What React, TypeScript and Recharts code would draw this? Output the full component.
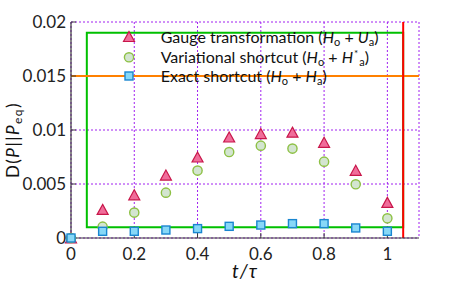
import React from 'react';
import { ScatterChart, Scatter, XAxis, YAxis, Legend, Label, ReferenceArea, ReferenceLine, CartesianGrid } from 'recharts';

const tValues = [0, 0.1, 0.2, 0.3, 0.4, 0.5, 0.6, 0.7, 0.8, 0.9, 1.0];
const gaugeValues = [0, 0.00265, 0.004, 0.00583, 0.0075, 0.00935, 0.00967, 0.0098, 0.00886, 0.00627, 0.0033];
const variationalValues = [0, 0.00105, 0.00235, 0.0042, 0.00624, 0.00796, 0.00855, 0.00828, 0.00707, 0.00497, 0.00182];
const exactValues = [0, 0.00062, 0.00062, 0.00074, 0.00087, 0.00108, 0.0012, 0.00133, 0.00133, 0.00093, 0.00062];
const xTicks = [0, 0.2, 0.4, 0.6, 0.8, 1];
const yTicks = [0, 0.005, 0.01, 0.015, 0.02];

const X_DOMAIN: [number, number] = [0, 1.1];
const Y_DOMAIN: [number, number] = [0, 0.02];

const gaugeData = tValues.map((t, i) => ({ t, v: gaugeValues[i] }));
const variationalData = tValues.map((t, i) => ({ t, v: variationalValues[i] }));
const exactData = tValues.map((t, i) => ({ t, v: exactValues[i] }));

const FONT = "Lato, 'Open Sans', sans-serif";
const AXIS = '#3a3a3a';

const TRI_FILL = '#f06d9a';
const TRI_STROKE = '#c8164a';
const CIR_FILL = '#d3e5d0';
const CIR_STROKE = '#8dc044';
const SQ_FILL = '#87d8f7';
const SQ_STROKE = '#1a86d0';

const Triangle = ({ cx, cy }: any) => {
  const w = 5.5;
  const h = 5;
  return (
    <path d={`M${cx},${cy - h} L${cx + w},${cy + h} L${cx - w},${cy + h} Z`} fill={TRI_FILL} stroke={TRI_STROKE} strokeWidth={1.2} />
  );
};
const Circle = ({ cx, cy }: any) => (
  <circle cx={cx} cy={cy} r={4.6} fill={CIR_FILL} stroke={CIR_STROKE} strokeWidth={1.4} />
);
const Square = ({ cx, cy }: any) => (
  <rect x={cx - 4} y={cy - 4} width={8} height={8} fill={SQ_FILL} stroke={SQ_STROKE} strokeWidth={1.4} />
);

const EmptyTick = () => <g />;
const sub = 11;
const LEG_FS = 16;

const LegendContent = () => (
  <svg width={330} height={75} style={{ overflow: 'visible' }}>
    <Triangle cx={19} cy={16.5} />
    <Circle cx={19} cy={37.3} />
    <Square cx={19} cy={56} />
    <text x={50.7} y={22.7} fontFamily={FONT} fontSize={LEG_FS} style={{ whiteSpace: 'pre' }} fill="#111">
      Gauge transformation (<tspan fontStyle="italic">H</tspan><tspan fontSize={sub} dy={3}>o</tspan><tspan dy={-3}> + </tspan><tspan fontStyle="italic">U</tspan><tspan fontSize={sub} dy={3}>a</tspan><tspan dy={-3}>)</tspan>
    </text>
    <text x={50.7} y={42.7} fontFamily={FONT} fontSize={LEG_FS} style={{ whiteSpace: 'pre' }} fill="#111">
      Variational shortcut (<tspan fontStyle="italic">H</tspan><tspan fontSize={sub} dy={3}>o</tspan><tspan dy={-3}> + </tspan><tspan fontStyle="italic">H</tspan><tspan fontSize={10} dx={1} dy={-6}>*</tspan><tspan fontSize={sub} dx={1} dy={9}>a</tspan><tspan dy={-3}>)</tspan>
    </text>
    <text x={50.7} y={62} fontFamily={FONT} fontSize={LEG_FS} style={{ whiteSpace: 'pre' }} fill="#111">
      Exact shortcut (<tspan fontStyle="italic">H</tspan><tspan fontSize={sub} dy={3}>o</tspan><tspan dy={-3}> + </tspan><tspan fontStyle="italic">H</tspan><tspan fontSize={sub} dy={3}>a</tspan><tspan dy={-3}>)</tspan>
    </text>
  </svg>
);

const YLabel = (props: any) => {
  const vb = props.viewBox || { x: 0, y: 22, width: 71, height: 216 };
  const x = vb.x + 19;
  const y = vb.y + vb.height / 2 + 10;
  return (
    <text x={x} y={y} transform={`rotate(-90 ${x} ${y})`} textAnchor="middle" fontFamily={FONT} fontSize={17} fill="#111" letterSpacing={1.5}>
      D(<tspan fontStyle="italic">P</tspan>||<tspan fontStyle="italic">P</tspan><tspan fontSize={12} dy={3}>eq</tspan><tspan dy={-3}>)</tspan>
    </text>
  );
};

const XLabel = (props: any) => {
  const vb = props.viewBox || { x: 71, y: 238, width: 348, height: 30 };
  const x = vb.x + vb.width / 2;
  const y = vb.y + 40;
  return (
    <text x={x} y={y} textAnchor="middle" fontFamily={FONT} fontSize={19} fontStyle="italic" fill="#111" letterSpacing={1}>
      t/τ
    </text>
  );
};

const tickStyle = { fontSize: 17, fill: '#222', fontFamily: FONT };

export default function App() {
  return (
    <div style={{ position: 'absolute', left: 0, top: 0, width: 463, height: 287, background: '#fff' }}>
      <ScatterChart width={463} height={287} margin={{ top: 22, right: 44, bottom: 19, left: 0 }}>
        <CartesianGrid xAxisId="b" yAxisId="l" stroke="#a020f0" strokeDasharray="2 2" />
        <XAxis xAxisId="b" type="number" dataKey="t" domain={X_DOMAIN} ticks={xTicks} height={30} tickSize={-5} tickMargin={15} tick={tickStyle} axisLine={{ stroke: AXIS, strokeWidth: 1.2 }} tickLine={{ stroke: AXIS }}>
          <Label content={XLabel} />
        </XAxis>
        <YAxis yAxisId="l" type="number" dataKey="v" domain={Y_DOMAIN} ticks={yTicks} width={71} tickSize={-5} tickMargin={10} tick={tickStyle} axisLine={{ stroke: AXIS, strokeWidth: 1.2 }} tickLine={{ stroke: AXIS }}>
          <Label content={YLabel} />
        </YAxis>
        <ReferenceArea xAxisId="b" yAxisId="l" x1={0.05} x2={1.05} y1={0.001} y2={0.019} fill="none" stroke="#00c000" strokeWidth={2} />
        <ReferenceLine xAxisId="b" yAxisId="l" y={0.015} stroke="#ff8000" strokeWidth={2} />
        <ReferenceLine xAxisId="b" yAxisId="l" x={1.05} stroke="#ff0000" strokeWidth={2} />
        <Legend layout="vertical" align="center" verticalAlign="middle" wrapperStyle={{ top: 20, left: 110, width: 330, height: 75 }} content={LegendContent} />
        <Scatter name="Gauge" data={gaugeData} xAxisId="b" yAxisId="l" shape={Triangle} isAnimationActive={false} />
        <Scatter name="Variational" data={variationalData} xAxisId="b" yAxisId="l" shape={Circle} isAnimationActive={false} />
        <Scatter name="Exact" data={exactData} xAxisId="b" yAxisId="l" shape={Square} isAnimationActive={false} />
      </ScatterChart>
    </div>
  );
}
